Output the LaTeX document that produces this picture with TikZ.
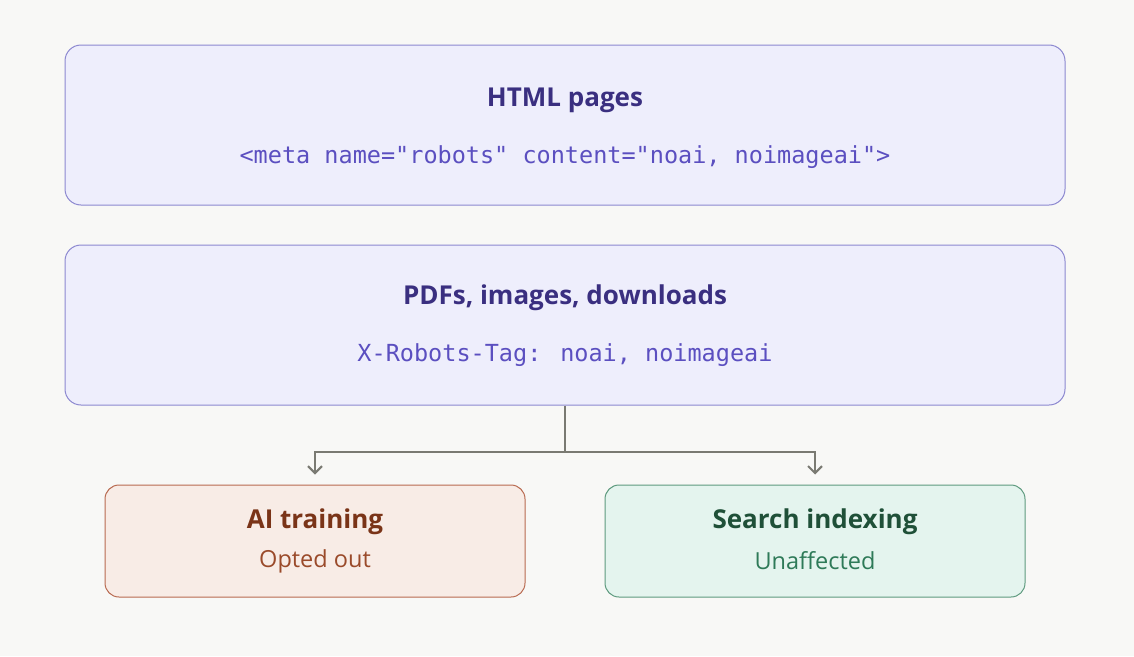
\documentclass[tikz,border=0pt]{standalone}
\usepackage{fontspec}
\setmainfont{Open Sans}
\newfontfamily\codefont{DejaVu Sans Mono}
\usetikzlibrary{arrows.meta}
\definecolor{bg}{HTML}{F8F8F6}
\definecolor{pfill}{HTML}{EEEEFC}
\definecolor{pdraw}{HTML}{8C88D0}
\definecolor{ptext}{HTML}{3A2F80}
\definecolor{pcode}{HTML}{5B4FC0}
\definecolor{rfill}{HTML}{F8ECE6}
\definecolor{rdraw}{HTML}{B86A50}
\definecolor{rtext}{HTML}{7A3418}
\definecolor{rsub}{HTML}{9A4A2A}
\definecolor{gfill}{HTML}{E4F4EE}
\definecolor{gdraw}{HTML}{5E9A7E}
\definecolor{gtext}{HTML}{1F5038}
\definecolor{gsub}{HTML}{2E7A58}
\definecolor{arr}{HTML}{7A7A72}
\tikzset{
 box/.style={draw=pdraw,fill=pfill,rounded corners=16pt,line width=1pt,minimum width=1000pt,minimum height=160pt,inner sep=0pt},
 title/.style={font=\fontsize{26}{30}\selectfont\bfseries,text=ptext},
 code/.style={font=\codefont\fontsize{23.5}{27}\selectfont,text=pcode},
 sub/.style={font=\fontsize{23.5}{27}\selectfont},
 sbox/.style={rounded corners=14pt,line width=1pt,minimum width=420pt,minimum height=112pt,inner sep=0pt},
 conn/.style={draw=arr,line width=2pt,-{Straight Barb[length=7pt,width=14pt,line width=2pt]}}
}
\begin{document}
\begin{tikzpicture}[x=1pt,y=-1pt]
\useasboundingbox[fill=bg] (0,0) rectangle (1134,656);
\node[box] (b1) at (565,125) {};
\node[title] (t1) at (565,100) {HTML pages};
\node[code] (c1) at (565,157) {<meta name="robots" content="noai, noimageai">};
\node[box] (b2) at (565,325) {};
\node[title] (t2) at (565,298) {PDFs, images, downloads};
\node[code] (c2) at (565,355) {X-Robots-Tag: noai, noimageai};
\node[sbox,draw=rdraw,fill=rfill] (l) at (315,541) {};
\node[title,text=rtext] (lt) at (315,522) {AI training};
\node[sub,text=rsub] (ls) at (315,561) {Opted out};
\node[sbox,draw=gdraw,fill=gfill] (r) at (815,541) {};
\node[title,text=gtext] (rt) at (815,522) {Search indexing};
\node[sub,text=gsub] (rs) at (815,561) {Unaffected};
\coordinate (j) at (565,452);
\draw[draw=arr,line width=2pt] (b2.south) -- (j);
\draw[conn] (j) -| ([yshift=10pt]l.north);
\draw[conn] (j) -| ([yshift=10pt]r.north);
\end{tikzpicture}
\end{document}
